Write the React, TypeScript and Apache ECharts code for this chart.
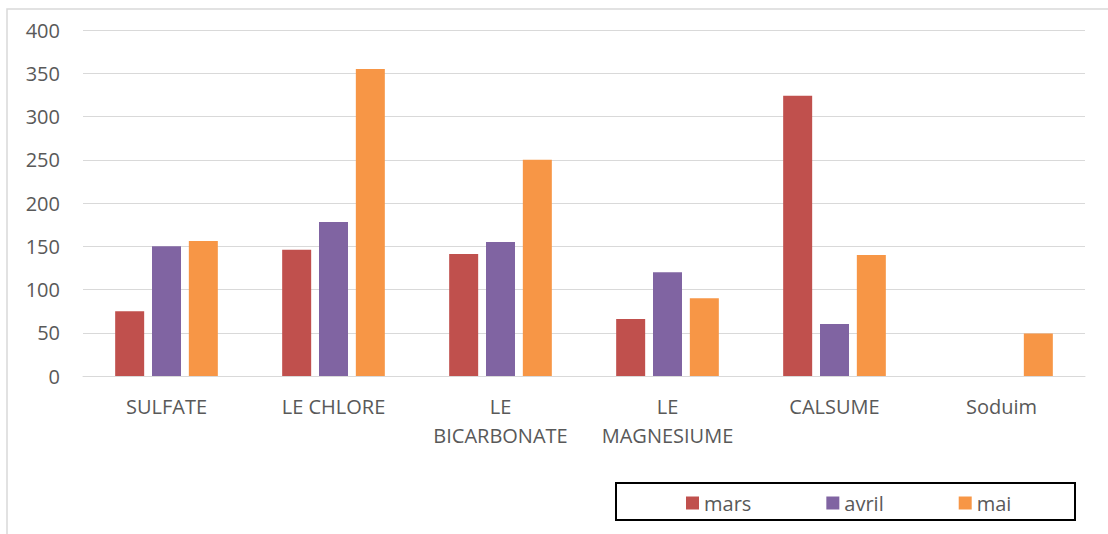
import React, { useEffect, useRef } from "react";
import * as echarts from "echarts";

const categories = ["SULFATE", "LE CHLORE", "LE\nBICARBONATE", "LE\nMAGNESIUME", "CALSUME", "Soduim"];
const mars = [75, 146, 141, 66, 324, null];
const avril = [150, 178, 155, 120, 60, null];
const mai = [156, 355, 250, 90, 140, 49];
const seriesNames = ["mars", "avril", "mai"];
const colors = ["#C0504D", "#8064A2", "#F79646"];

export default function App() {
  const ref = useRef<HTMLDivElement>(null);
  useEffect(() => {
    if (!ref.current) return;
    const chart = echarts.init(ref.current, null, { renderer: "svg" });
    const font = "'Open Sans', sans-serif";
    const data = [mars, avril, mai];
    chart.setOption({
      animation: false,
      backgroundColor: "#ffffff",
      textStyle: { fontFamily: font },
      grid: { left: 83, right: 23, top: 30, bottom: 158, containLabel: false },
      xAxis: {
        type: "category",
        data: categories,
        axisLine: { lineStyle: { color: "#d9d9d9", width: 1 } },
        axisTick: { show: false },
        axisLabel: {
          color: "#595959",
          fontSize: 20,
          fontFamily: font,
          lineHeight: 29,
          margin: 16,
          interval: 0,
        },
      },
      yAxis: {
        type: "value",
        min: 0,
        max: 400,
        interval: 50,
        axisLine: { show: false },
        axisTick: { show: false },
        splitLine: { lineStyle: { color: "#d9d9d9", width: 1 } },
        axisLabel: { color: "#595959", fontSize: 20, fontFamily: font, margin: 23 },
      },
      legend: {
        data: seriesNames,
        left: 681,
        top: 488,
        itemWidth: 13,
        itemHeight: 13,
        itemGap: 75,
        icon: "rect",
        textStyle: { color: "#595959", fontSize: 20, fontFamily: font },
      },
      graphic: [
        {
          type: "rect",
          shape: { x: 7, y: 9, width: 1110, height: 540 },
          style: { fill: "none", stroke: "#d9d9d9", lineWidth: 1.5 },
          silent: true,
        },
        {
          type: "rect",
          shape: { x: 616, y: 483, width: 459, height: 37 },
          style: { fill: "none", stroke: "#000000", lineWidth: 2 },
          silent: true,
        },
      ],
      series: seriesNames.map((name, i) => ({
        name,
        type: "bar",
        data: data[i],
        barWidth: 29,
        barGap: "27%",
        itemStyle: { color: colors[i] },
      })),
    });
    return () => chart.dispose();
  }, []);
  return (
    <div
      ref={ref}
      style={{ position: "fixed", left: 0, top: 0, width: 1108, height: 534 }}
    />
  );
}
